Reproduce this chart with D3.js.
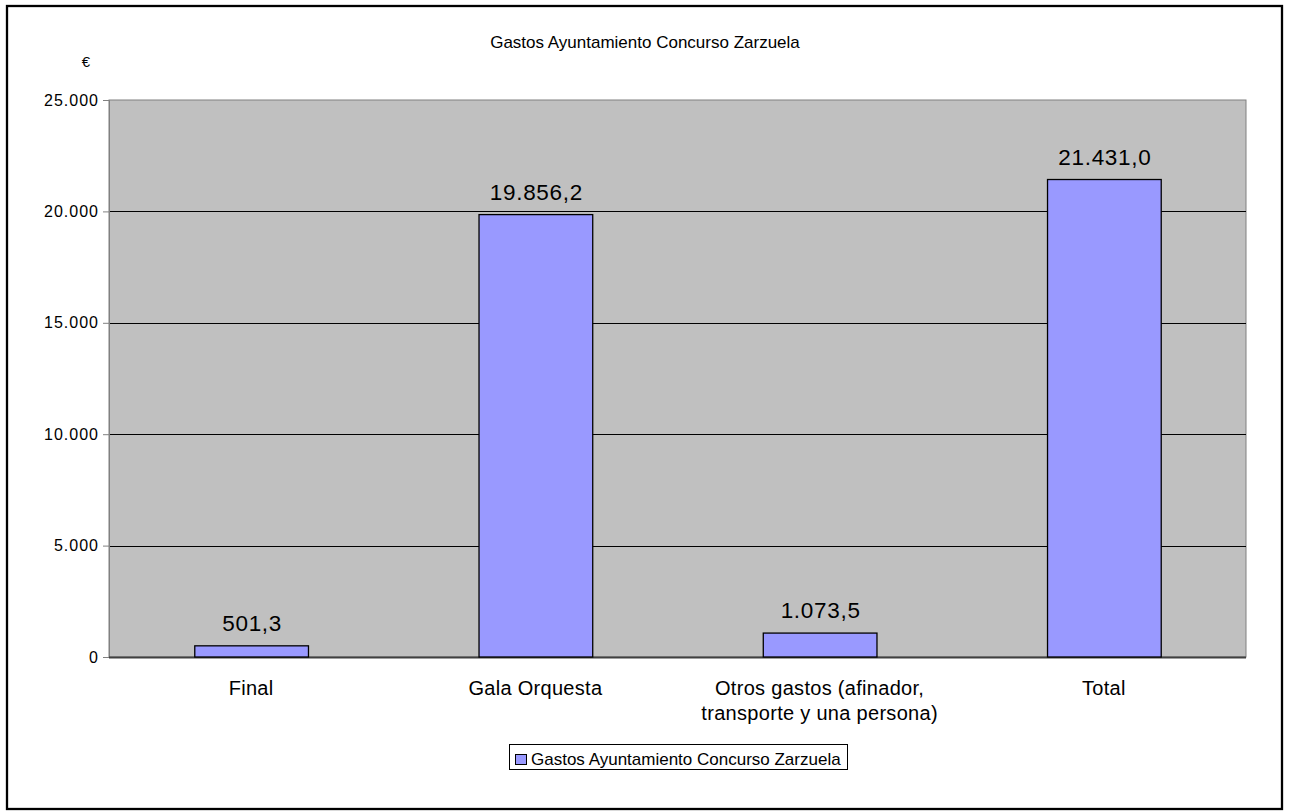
<!DOCTYPE html>
<html><head><meta charset="utf-8">
<script src="https://cdn.jsdelivr.net/npm/d3@7"></script>
<style>body{margin:0;background:#fff}svg{display:block;font-family:"Liberation Sans",Arial,sans-serif}</style>
</head><body>
<svg id="c" width="1289" height="812"></svg>
<script>
const categories = ["Final", "Gala Orquesta", "Otros gastos (afinador, transporte y una persona)", "Total"];
const categoryLines = [["Final"], ["Gala Orquesta"], ["Otros gastos (afinador,", "transporte y una persona)"], ["Total"]];
const values = [501.3, 19856.2, 1073.5, 21431.0];
const yTicks = [0, 5000, 10000, 15000, 20000, 25000];
const seriesName = "Gastos Ayuntamiento Concurso Zarzuela";
const title = "Gastos Ayuntamiento Concurso Zarzuela";
const unit = "€";

const svg = d3.select("#c");
const L = 109, R = 1246, T = 100, B = 657;

svg.append("rect").attr("x", 7).attr("y", 6).attr("width", 1275).attr("height", 803)
  .attr("fill", "#fff").attr("stroke", "#000").attr("stroke-width", 2.3);

const x = d3.scaleBand().domain(categories).range([L, R]).paddingInner(0.6).paddingOuter(0.3);
const y = d3.scaleLinear().domain([0, 25000]).range([B, T]);

svg.append("rect").attr("x", L).attr("y", T).attr("width", R - L).attr("height", B - T)
  .attr("fill", "#C0C0C0").attr("stroke", "#808080").attr("stroke-width", 1);

const fmt = v => d3.format(",")(v).replace(/,/g, ".");
const fmt1 = v => d3.format(",.1f")(v).replace(/,/g, "#").replace(".", ",").replace(/#/g, ".");

// gridlines
svg.append("g").selectAll("line").data(yTicks.filter(t => t > 0 && t < 25000)).join("line")
  .attr("x1", L).attr("x2", R).attr("y1", d => Math.round(y(d)) + 0.5).attr("y2", d => Math.round(y(d)) + 0.5)
  .attr("stroke", "#000").attr("stroke-width", 1);

// y axis
const ya = svg.append("g").attr("transform", `translate(${L},0)`)
  .call(d3.axisLeft(y).tickValues(yTicks).tickFormat(fmt).tickSize(6).tickPadding(4));
ya.select(".domain").attr("stroke", "#808080");
ya.selectAll(".tick line").attr("stroke", "#808080");
ya.selectAll("text").attr("font-size", 16).attr("letter-spacing", 1).attr("fill", "#000")
  .attr("font-family", "Liberation Sans, Arial, sans-serif");

// x axis line
svg.append("line").attr("x1", L).attr("x2", R).attr("y1", B + 0.5).attr("y2", B + 0.5)
  .attr("stroke", "#404040").attr("stroke-width", 2);

// bars
svg.append("g").selectAll("rect").data(values).join("rect")
  .attr("x", (d, i) => x(categories[i]) + 0.5).attr("width", x.bandwidth())
  .attr("y", d => y(d)).attr("height", d => B - y(d))
  .attr("fill", "#9999FF").attr("stroke", "#000").attr("stroke-width", 1.3);

// data labels
svg.append("g").selectAll("text").data(values).join("text")
  .attr("x", (d, i) => x(categories[i]) + x.bandwidth() / 2 + 1)
  .attr("y", d => y(d) - 15).attr("text-anchor", "middle").attr("font-size", 22.5)
  .attr("letter-spacing", 0.7).attr("fill", "#000")
  .text(fmt1);

// category labels
categoryLines.forEach((lines, i) => {
  const t = svg.append("text").attr("text-anchor", "middle").attr("font-size", 20)
    .attr("letter-spacing", 0.3).attr("fill", "#000");
  lines.forEach((ln, j) => t.append("tspan").attr("x", x(categories[i]) + x.bandwidth() / 2)
    .attr("y", 695 + j * 25).text(ln));
});

// title & unit
svg.append("text").attr("x", 645).attr("y", 48).attr("text-anchor", "middle").attr("font-size", 17).text(title);
svg.append("text").attr("x", 86).attr("y", 67).attr("text-anchor", "middle").attr("font-size", 15).text(unit);

// legend
const lg = svg.append("g");
lg.append("rect").attr("x", 509.5).attr("y", 744.5).attr("width", 338).attr("height", 25)
  .attr("fill", "#fff").attr("stroke", "#000").attr("stroke-width", 1);
lg.append("rect").attr("x", 515.5).attr("y", 754.5).attr("width", 11).attr("height", 10)
  .attr("fill", "#9999FF").attr("stroke", "#000").attr("stroke-width", 1);
lg.append("text").attr("x", 531).attr("y", 765).attr("font-size", 17).text(seriesName);
</script>
</body></html>
